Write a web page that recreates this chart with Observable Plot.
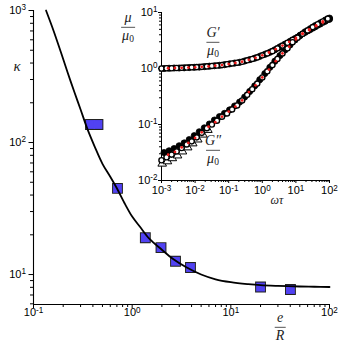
<!DOCTYPE html>
<html><head><meta charset="utf-8">
<script src="https://cdn.jsdelivr.net/npm/d3@7"></script>
<script src="https://cdn.jsdelivr.net/npm/@observablehq/plot@0.6"></script>
<style>
body{margin:0;background:#fff;}
#wrap{position:relative;width:339px;height:343px;overflow:hidden;}
#wrap svg{position:absolute;}
.frac{position:absolute;display:flex;flex-direction:column;align-items:center;transform:translate(-50%,-50%);font-family:"Liberation Serif","Times New Roman",serif;font-style:italic;font-size:14px;color:#222;line-height:1.05;}
.frac .num{padding:0 1px 1px;}
.frac .den{border-top:1px solid #555;padding:1px 1px 0;}
.frac sub{font-style:normal;font-size:9.5px;vertical-align:-2px;line-height:0;}
.lab{position:absolute;transform:translate(-50%,-50%);font-family:"Liberation Serif","Times New Roman",serif;font-style:italic;font-size:14px;color:#222;}
</style></head>
<body><div id="wrap"></div>
<script>
// ---- main panel: kappa vs e/R ----
const fitE = [0.134,0.16,0.19,0.22,0.26,0.3,0.35,0.42,0.5,0.6,0.7,0.85,1.0,1.2,1.5,2.0,2.6,3.5,5,7,10,15,20,30,50,70,100];
const fitK = [1000,700,480,345,240,178,128,92,69,55,45,34,27.5,23,18.6,15.4,13.1,11.4,10.0,9.2,8.75,8.45,8.3,8.2,8.12,8.08,8.05];
const sqE = [0.378,0.45,0.71,1.36,1.96,2.75,3.9,20,40.2];
const sqK = [137,137,44.9,19,16,12.6,11.3,8.04,7.7];
const mainXDomain = [0.1,100];
const mainYDomain = [5.93,1000];
const mainXMajor = [0.1,1,10,100];
const mainXMinor = [0.2,0.3,0.4,0.5,0.6,0.7,0.8,0.9,2,3,4,5,6,7,8,9,20,30,40,50,60,70,80,90];
const mainYMajor = [10,100,1000];
const mainYMinor = [6,7,8,9,20,30,40,50,60,70,80,90,200,300,400,500,600,700,800,900];

// ---- inset: G'/mu0, G''/mu0 vs omega tau ----
const wOpen = [0.001,0.00141,0.002,0.00282,0.00398,0.00562,0.00794,0.0112,0.0158,0.0224,0.0316,0.0447,0.0631,0.0891,0.126,0.178,0.251,0.355,0.501,0.708,1,1.41,2.0,2.82,3.98,5.62,7.94,11.2,15.8,22.4,31.6,44.7,63.1,89.1];
const gpOpen = [1.00,1.01,1.01,1.02,1.03,1.04,1.05,1.06,1.07,1.09,1.11,1.13,1.15,1.19,1.23,1.27,1.32,1.40,1.48,1.58,1.72,1.86,2.04,2.29,2.57,2.88,3.24,3.63,4.17,4.68,5.25,5.89,6.61,7.41];
const gppOpen = [0.023,0.026,0.029,0.033,0.038,0.044,0.050,0.059,0.071,0.086,0.100,0.117,0.138,0.158,0.186,0.219,0.269,0.339,0.427,0.537,0.692,0.891,1.15,1.48,1.86,2.29,2.95,3.55,4.17,4.79,5.50,6.17,6.92,7.76];
const wFilled = [0.00119,0.00168,0.00237,0.00335,0.00473,0.00668,0.00944,0.0133,0.0188,0.0266,0.0376,0.0531,0.075,0.106,0.15,0.211,0.299,0.422,0.596,0.841,1.19,1.68,2.37,3.35,4.73,6.68,9.44,13.3,18.8,26.6,37.6,53.1,75.0,100];
const gpFilled = [1.00,1.01,1.02,1.02,1.03,1.04,1.05,1.06,1.08,1.10,1.12,1.14,1.17,1.21,1.25,1.29,1.36,1.44,1.53,1.65,1.79,1.95,2.16,2.43,2.72,3.05,3.43,3.89,4.42,4.95,5.56,6.24,7.00,7.59];
const gppFilled = [0.0316,0.0339,0.0372,0.0417,0.0468,0.0537,0.0631,0.0741,0.0871,0.102,0.120,0.138,0.158,0.182,0.214,0.251,0.309,0.389,0.490,0.631,0.813,1.05,1.35,1.70,2.14,2.63,3.24,3.89,4.52,5.13,5.82,6.53,7.33,7.94];
const wTri = [0.00105,0.0015,0.0021,0.003,0.0042,0.006,0.0085,0.012,0.017,0.024];
const gppTri = [0.020,0.022,0.025,0.028,0.033,0.039,0.046,0.054,0.066,0.080];
const wModel = [0.00158,0.00251,0.00398,0.00631,0.01,0.0158,0.0251,0.0398,0.0631,0.1,0.158,0.251,0.398,0.631,1,1.58,2.51,3.98,6.31,10,15.8,25.1,39.8,63.1];
const gpModel = [1.01,1.02,1.03,1.04,1.05,1.07,1.09,1.12,1.15,1.20,1.26,1.32,1.43,1.55,1.72,1.93,2.21,2.57,2.99,3.51,4.17,4.84,5.69,6.61];
const gppModel = [0.0288,0.0324,0.0389,0.0468,0.0575,0.0724,0.0912,0.110,0.138,0.170,0.209,0.269,0.380,0.501,0.692,0.955,1.35,1.86,2.45,3.31,4.17,5.01,5.89,6.92];
const inXDomain = [0.001,100];
const inYDomain = [0.01,10];
const inXMajor = [0.001,0.01,0.1,1,10,100];
const inYMajor = [0.01,0.1,1,10];

function minorsOf(majors){
  const out=[];
  for(let i=0;i<majors.length-1;i++) for(let k=2;k<=9;k++) out.push(+(majors[i]*k).toPrecision(3));
  return out;
}
const sup = d => "10^" + Math.round(Math.log10(d));
function supify(svg){
  d3.select(svg).selectAll("text").each(function(){
    const t=d3.select(this); const s=t.text();
    if(!s.includes("^")) return;
    const [b,e]=s.split("^");
    t.text(null);
    t.append("tspan").text(b);
    t.append("tspan").attr("dy","-0.45em").attr("font-size","0.74em").text(e);
  });
}

const fit = fitE.map((e,i)=>({e, k:fitK[i]}));
const sq = sqE.map((e,i)=>({e, k:sqK[i]}));
const font = "'Liberation Sans', Arial, sans-serif";

const main = Plot.plot({
  width:339, height:343, marginLeft:33, marginRight:10, marginTop:10, marginBottom:39,
  style:{fontSize:"11px", fontFamily:font, background:"transparent", color:"black"},
  x:{type:"log", domain:mainXDomain, label:null},
  y:{type:"log", domain:mainYDomain, label:null},
  marks:[
    Plot.axisX({ticks:mainXMinor, tickFormat:()=> "", tickSize:3, label:null}),
    Plot.axisX({ticks:mainXMajor, tickFormat:sup, tickSize:4, tickPadding:0, label:null}),
    Plot.axisY({ticks:mainYMinor, tickFormat:()=> "", tickSize:3, label:null}),
    Plot.axisY({ticks:mainYMajor, tickFormat:sup, tickSize:4.5, tickPadding:3, label:null}),
    Plot.ruleX([mainXDomain[0]], {stroke:"black", strokeWidth:1.1}),
    Plot.ruleY([mainYDomain[0]], {stroke:"black", strokeWidth:1.1}),
    Plot.dot(sq, {x:"e", y:"k", symbol:"square", r:5, fill:"#222", stroke:"#222", strokeWidth:2}),
    Plot.dot(sq, {x:"e", y:"k", symbol:"square", r:5, fill:"#5142f3"}),
    Plot.line(fit, {x:"e", y:"k", stroke:"black", strokeWidth:1.8, curve:"catmull-rom"})
  ]
});
main.style.left="0px"; main.style.top="0px";
supify(main);

const openD = wOpen.flatMap((w,i)=>[{w,v:gpOpen[i]},{w,v:gppOpen[i]}]);
const filledD = wFilled.flatMap((w,i)=>[{w,v:gpFilled[i]},{w,v:gppFilled[i]}]);
const triD = wTri.map((w,i)=>({w,v:gppTri[i]}));
const modelD = wModel.flatMap((w,i)=>[{w,v:gpModel[i]},{w,v:gppModel[i]}]);

const inset = Plot.plot({
  width:208, height:212, marginLeft:30, marginRight:10, marginTop:12, marginBottom:32,
  style:{fontSize:"11px", fontFamily:font, background:"transparent", color:"black", overflow:"visible"},
  x:{type:"log", domain:inXDomain, label:null},
  y:{type:"log", domain:inYDomain, label:null},
  marks:[
    Plot.axisX({ticks:minorsOf(inXMajor), tickFormat:()=> "", tickSize:2, label:null}),
    Plot.axisX({ticks:inXMajor, tickFormat:sup, tickSize:3, tickPadding:3, label:null}),
    Plot.axisY({ticks:minorsOf(inYMajor), tickFormat:()=> "", tickSize:2, label:null}),
    Plot.axisY({ticks:inYMajor, tickFormat:sup, tickSize:3, tickPadding:1, label:null}),
    Plot.ruleX([inXDomain[0]], {stroke:"black"}),
    Plot.ruleY([inYDomain[0]], {stroke:"black"}),
    Plot.dot(triD, {x:"w", y:"v", symbol:"triangle", r:3.2, fill:"white", stroke:"black", strokeWidth:1}),
    Plot.dot(filledD, {x:"w", y:"v", r:3.1, fill:"black", stroke:"black", strokeWidth:0.8}),
    Plot.dot(openD, {x:"w", y:"v", r:2.6, fill:"white", stroke:"black", strokeWidth:1.4}),
    Plot.dot(modelD, {x:"w", y:"v", r:1.4, fill:"#ee1c1c"})
  ]
});
inset.style.left="131px"; inset.style.top="0px";
supify(inset);

const wrap=document.getElementById("wrap");
wrap.appendChild(main); wrap.appendChild(inset);

function frac(cx, cy, num, den){
  const d=document.createElement("div"); d.className="frac";
  d.style.left=cx+"px"; d.style.top=cy+"px";
  d.innerHTML=`<div class="num">${num}</div><div class="den">${den}</div>`;
  wrap.appendChild(d);
}
function lab(cx, cy, html, size){
  const d=document.createElement("div"); d.className="lab";
  d.style.left=cx+"px"; d.style.top=cy+"px"; if(size) d.style.fontSize=size+"px";
  d.innerHTML=html; wrap.appendChild(d);
}
frac(280, 327, "e", "R");
frac(213, 42, "G′", "μ<sub>0</sub>");
frac(213, 150, "G″", "μ<sub>0</sub>");
frac(128, 27, "μ", "μ<sub>0</sub>");
lab(17, 66, "κ", 15);
lab(277, 200, "ωτ", 12);
</script></body></html>
